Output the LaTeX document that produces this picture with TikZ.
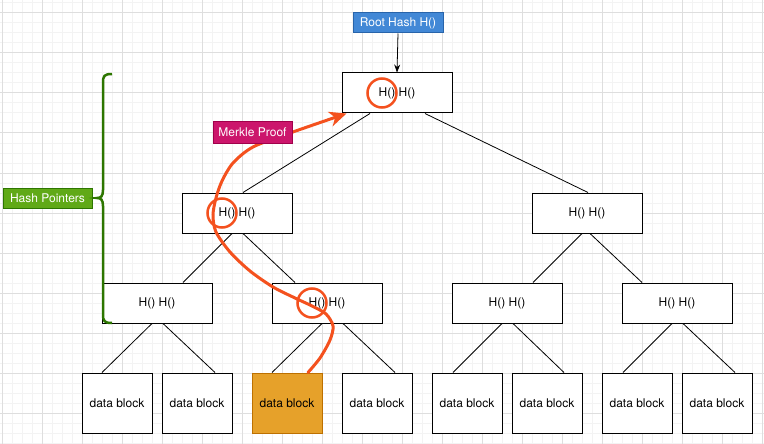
\documentclass[tikz,border=0pt]{standalone}
\usepackage{fontspec}
\setmainfont{TeX Gyre Heros}
\usetikzlibrary{arrows.meta, calc}
\definecolor{gridminor}{RGB}{243,243,243}
\definecolor{gridmajor}{RGB}{222,222,222}
\definecolor{rootblue}{RGB}{66,136,214}
\definecolor{rootblueline}{RGB}{40,100,170}
\definecolor{proofmagenta}{RGB}{204,22,108}
\definecolor{proofmagentaline}{RGB}{160,0,75}
\definecolor{pointergreen}{RGB}{96,169,23}
\definecolor{pointergreenline}{RGB}{45,118,0}
\definecolor{blockorange}{RGB}{230,161,42}
\definecolor{blockorangeline}{RGB}{189,112,0}
\definecolor{proofred}{RGB}{244,81,30}

\begin{document}
\begin{tikzpicture}[x=1pt, y=-1pt,
	every node/.style={font=\fontsize{12}{14}\selectfont, inner sep=0pt},
	hashbox/.style={draw=black, fill=white, line width=1pt, minimum width=110pt, minimum height=40pt},
	datablock/.style={draw=black, fill=white, line width=1pt, minimum width=70pt, minimum height=60pt},
	tag/.style={text=white, line width=1pt, minimum height=20pt},
	treeedge/.style={line width=0.8pt},
	ring/.style={circle, draw=proofred, line width=2.5pt, minimum size=29pt},
	proofpath/.style={draw=proofred, line width=3pt, line cap=round, -{Stealth[length=17pt,width=15pt,inset=5pt]}}
	]
	\useasboundingbox (0,0) rectangle (764,444);
	\fill[white] (0,0) rectangle (764,444);
	% grid
	\foreach \x in {2,12,...,762} \draw[gridminor, line width=1pt] (\x,0) -- (\x,444);
	\foreach \y in {3,13,...,443} \draw[gridminor, line width=1pt] (0,\y) -- (764,\y);
	\foreach \x in {2,42,...,762} \draw[gridmajor, line width=1pt] (\x,0) -- (\x,444);
	\foreach \y in {13,53,...,413} \draw[gridmajor, line width=1pt] (0,\y) -- (764,\y);

	% tree
	\node[hashbox] (root) at (397,93) {H() H()};
	\node[hashbox] (la) at (237,213) {H() H()};
	\node[hashbox] (lb) at (587,213) {H() H()};
	\node[hashbox] (ma) at (157,303) {H() H()};
	\node[hashbox] (mb) at (327,303) {H() H()};
	\node[hashbox] (mc) at (507,303) {H() H()};
	\node[hashbox] (md) at (677,303) {H() H()};
	\node[datablock] (da) at (117,403) {data block};
	\node[datablock] (db) at (197,403) {data block};
	\node[datablock, fill=blockorange, draw=blockorangeline] (dc) at (287,403) {data block};
	\node[datablock] (dd) at (377,403) {data block};
	\node[datablock] (de) at (467,403) {data block};
	\node[datablock] (df) at (547,403) {data block};
	\node[datablock] (dg) at (637,403) {data block};
	\node[datablock] (dh) at (717,403) {data block};

	\foreach \p/\c/\a/\b in {root/la/-27/6, root/lb/28/1, la/ma/-5/26, la/mb/6/-32,
		lb/mc/-5/26, lb/md/3/-35, ma/da/-5/-15, ma/db/6/18, mb/dc/-5/-15, mb/dd/16/18,
		mc/de/-5/-14, mc/df/6/17, md/dg/-5/-14, md/dh/6/18}
		\draw[treeedge] ($(\p.south)+(\a,0)$) -- ($(\c.north)+(\b,0)$);

	% merkle proof path
	\coordinate (proofstart) at ($(dc.north)+(21,0)$);
	\coordinate (proofend) at ($(root.south west)+(5,0)$);
	\draw[proofpath] plot[smooth, tension=0.5] coordinates {(proofstart) (320,358) (330,340)
		(333,326) (326,314) (312,306) (295,298) (273,287) (250,271) (230,252) (216,232)
		(213,215) (216,198) (222,181) (233,163) (253,147) (290,133) (proofend)};
	\node[ring] (ringroot) at ($(root)+(-15,0)$) {};
	\node[ring] (ringla) at ($(la)+(-15,0)$) {};
	\node[ring] (ringmb) at ($(mb)+(-15,0)$) {};

	% labels
	\node[tag, fill=rootblue, draw=rootblueline, minimum width=90pt] (roothash) at (398,23) {Root Hash H()};
	\draw[line width=0.8pt, -{Stealth[length=8pt,width=6pt]}] (roothash.south) -- (root.north);
	\node[tag, fill=proofmagenta, draw=proofmagentaline, minimum width=79pt, minimum height=21pt] (merkle) at (252.5,132.5) {Merkle Proof};
	\node[tag, fill=pointergreen, draw=pointergreenline, minimum width=89pt] (hashptr) at (47.5,198) {Hash Pointers};

	% brace
	\draw[pointergreenline, line width=2.5pt] (112,74) .. controls (104,74) and (103,76) .. (103,83)
		-- (103,190) .. controls (103,196) and (101,198) .. (97,198)
		.. controls (101,198) and (103,200) .. (103,206) -- (103,314)
		.. controls (103,321) and (104,323) .. (112,323);
	\draw[pointergreenline, line width=2.5pt] (hashptr.east) -- (97,198);
\end{tikzpicture}
\end{document}
